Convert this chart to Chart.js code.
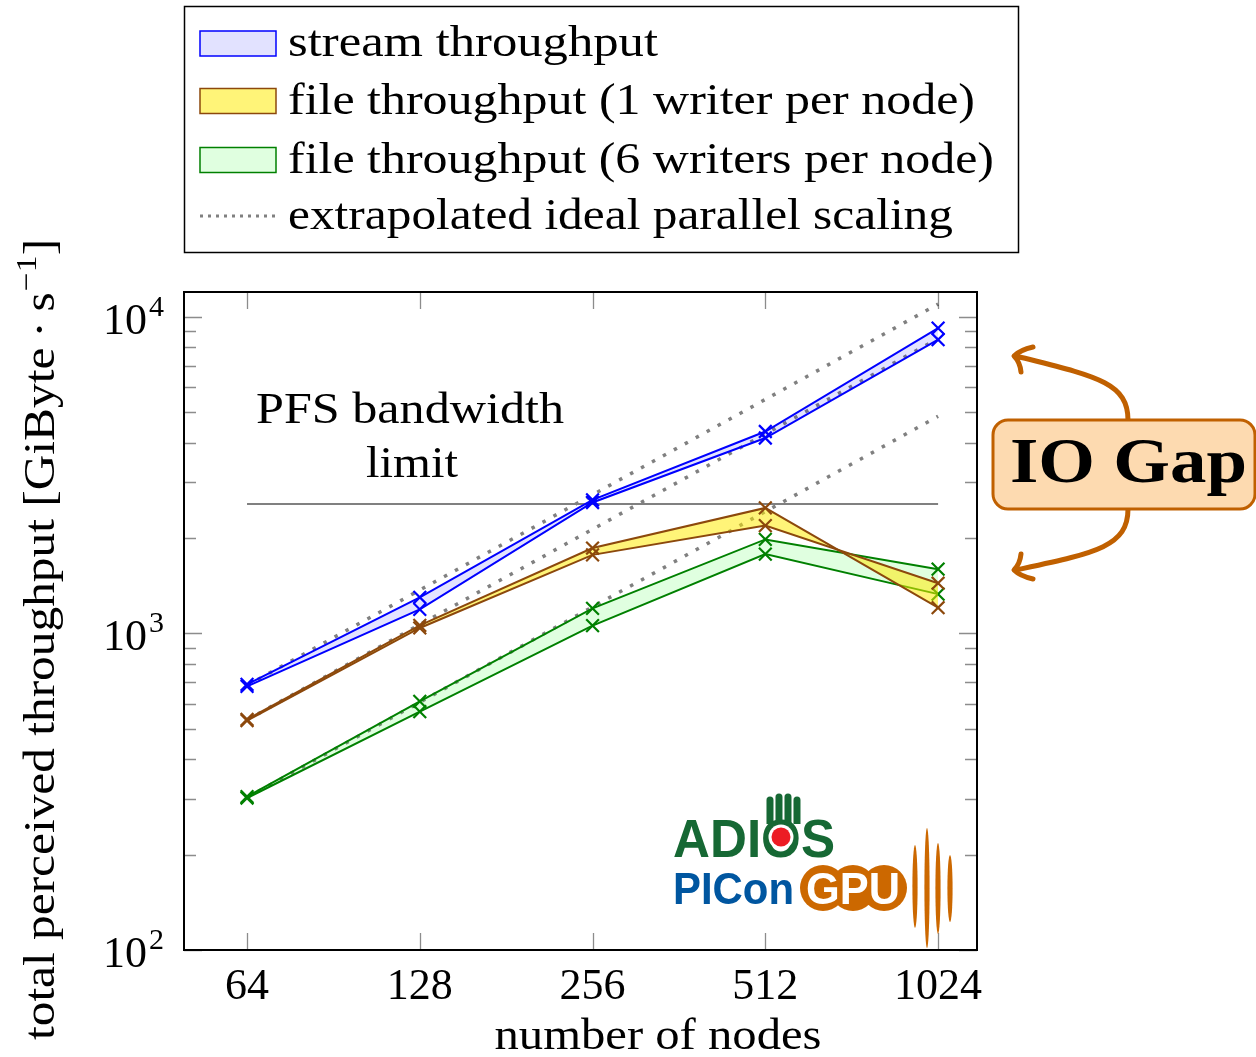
<!DOCTYPE html>
<html>
<head>
<meta charset="utf-8">
<script src="https://cdn.jsdelivr.net/npm/chart.js@4.4.1/dist/chart.umd.min.js"></script>
<style>
  body { margin: 0; background: #fff; }
  canvas { display: block; }
</style>
</head>
<body>
<canvas id="chart" width="1256" height="1057"></canvas>
<script>
// nodes on the x axis
const nodes = [64, 128, 256, 512, 1024];

// measured throughput [GiByte/s], upper and lower run of each setup
const streamHigh = [690, 1300, 2640, 4340, 9200];
const streamLow  = [680, 1190, 2590, 4140, 8460];
const file1A     = [535, 1060, 1860, 2490, 1205];
const file1B     = [530, 1040, 1770, 2190, 1440];
const file6High  = [305, 610, 1200, 1980, 1595];
const file6Low   = [302, 566, 1058, 1780, 1330];

// dotted ideal scaling lines
const idealStream = [685, 1370, 2740, 5480, 10960];
const idealFile1  = [533, 1066, 2132, 4264, 8528];
const idealFile6  = [303, 606, 1212, 2424, 4848];

// PFS bandwidth limit
const pfsNodes = [64, 1024];
const pfsLimit = [2560, 2560];

const yDecades = [100, 1000, 10000];

const legendLabels = [
  'stream throughput',
  'file throughput (1 writer per node)',
  'file throughput (6 writers per node)',
  'extrapolated ideal parallel scaling'
];

const BLUE = 'rgb(0,0,255)';
const BROWN = 'rgb(140,72,12)';
const GREEN = 'rgb(0,128,0)';
const GREY = 'rgb(128,128,128)';
const SERIF = '"Liberation Serif", "Times New Roman", serif';

function pts(ys, xs) {
  xs = xs || nodes;
  return xs.map((x, i) => ({ x: x, y: ys[i] }));
}

function measured(data, color, fill, bg) {
  return {
    data: pts(data),
    borderColor: color,
    borderWidth: 2,
    pointStyle: 'crossRot',
    pointRadius: 9,
    pointBorderWidth: 2.2,
    pointBorderColor: color,
    pointBackgroundColor: color,
    fill: fill,
    backgroundColor: bg
  };
}

function ideal(data) {
  return {
    data: pts(data),
    borderColor: GREY,
    borderWidth: 3.5,
    borderDash: [3.5, 9],
    pointRadius: 0,
    fill: false
  };
}

// draw text stretched to a target width
function fitText(ctx, str, x, y, w, align) {
  const m = ctx.measureText(str).width;
  ctx.save();
  ctx.translate(x, y);
  ctx.scale(w / m, 1);
  ctx.textAlign = 'left';
  let x0 = 0;
  if (align === 'center') x0 = -m / 2;
  if (align === 'right') x0 = -m;
  ctx.fillText(str, x0, 0);
  ctx.restore();
}

const decor = {
  id: 'decor',
  afterDatasetsDraw(chart) {
    const ctx = chart.ctx;
    const a = chart.chartArea;
    const xs = chart.scales.x, ys = chart.scales.y;
    ctx.save();

    // ticks
    ctx.strokeStyle = 'rgba(0,0,0,0.45)';
    ctx.lineWidth = 1.3;
    ctx.beginPath();
    for (let d = 100; d <= 10000; d *= 10) {
      for (let k = 1; k <= 9; k++) {
        const v = k * d;
        if (v > ys.max) break;
        const py = Math.round(ys.getPixelForValue(v)) + 0.5;
        const len = k === 1 ? 18 : 12;
        ctx.moveTo(a.left, py); ctx.lineTo(a.left + len, py);
        ctx.moveTo(a.right, py); ctx.lineTo(a.right - len, py);
      }
    }
    nodes.forEach(n => {
      const px = Math.round(xs.getPixelForValue(n)) + 0.5;
      ctx.moveTo(px, a.bottom); ctx.lineTo(px, a.bottom - 17);
      ctx.moveTo(px, a.top); ctx.lineTo(px, a.top + 17);
    });
    ctx.stroke();

    // frame
    ctx.strokeStyle = '#000';
    ctx.lineWidth = 2;
    ctx.strokeRect(a.left, a.top, a.right - a.left, a.bottom - a.top);

    // tick labels
    ctx.fillStyle = '#000';
    ctx.textBaseline = 'alphabetic';
    ctx.font = '44px ' + SERIF;
    ctx.textAlign = 'center';
    nodes.forEach(n => {
      ctx.fillText(String(n), xs.getPixelForValue(n), 999);
    });
    yDecades.forEach(v => {
      const py = ys.getPixelForValue(v);
      ctx.font = '44px ' + SERIF;
      ctx.textAlign = 'right';
      ctx.fillText('10', 147, py + 17);
      ctx.font = '30px ' + SERIF;
      ctx.textAlign = 'left';
      ctx.fillText(String(Math.round(Math.log10(v))), 149, py - 1);
    });

    // axis titles
    ctx.font = '44px ' + SERIF;
    fitText(ctx, 'number of nodes', 658, 1049, 327, 'center');

    ctx.save();
    ctx.translate(54, 1040);
    ctx.rotate(-Math.PI / 2);
    const t1 = 'total perceived throughput [GiByte\u2009\u00b7\u2009s';
    const t2 = '\u22121';
    const t3 = ']';
    ctx.font = '44px ' + SERIF;
    const w1 = ctx.measureText(t1).width, w3 = ctx.measureText(t3).width;
    ctx.font = '30px ' + SERIF;
    const w2 = ctx.measureText(t2).width;
    const s = 800 / (w1 + w2 + w3);
    ctx.scale(s, 1);
    ctx.textAlign = 'left';
    ctx.font = '44px ' + SERIF;
    ctx.fillText(t1, 0, 0);
    ctx.fillText(t3, w1 + w2 + 1, 0);
    ctx.font = '30px ' + SERIF;
    ctx.fillText(t2, w1 + 1, -18);
    ctx.restore();

    // PFS label
    ctx.font = '44px ' + SERIF;
    fitText(ctx, 'PFS bandwidth', 410, 423, 308, 'center');
    fitText(ctx, 'limit', 412, 477, 92, 'center');

    // legend box
    ctx.strokeStyle = '#000';
    ctx.lineWidth = 1.5;
    ctx.fillStyle = '#fff';
    ctx.fillRect(184, 6, 835, 247);
    ctx.strokeRect(184.5, 6.5, 834, 246);
    const rows = [43.5, 101, 160, 216];
    const swatches = [
      ['rgb(226,226,255)', BLUE],
      ['rgb(255,244,120)', BROWN],
      ['rgb(224,255,224)', GREEN]
    ];
    swatches.forEach((sw, i) => {
      ctx.fillStyle = sw[0];
      ctx.fillRect(200, rows[i] - 12.5, 76, 25);
      ctx.strokeStyle = sw[1];
      ctx.lineWidth = 1.5;
      ctx.strokeRect(200, rows[i] - 12.5, 76, 25);
    });
    ctx.strokeStyle = GREY;
    ctx.lineWidth = 3;
    ctx.setLineDash([3, 5]);
    ctx.beginPath();
    ctx.moveTo(200, rows[3]); ctx.lineTo(277, rows[3]);
    ctx.stroke();
    ctx.setLineDash([]);
    ctx.fillStyle = '#000';
    ctx.font = '44px ' + SERIF;
    const legendW = [370, 687, 706, 665];
    legendLabels.forEach((lab, i) => {
      fitText(ctx, lab, 288, rows[i] + 12.5, legendW[i], 'left');
    });

    // logo
    const SANS = '"Liberation Sans", Arial, sans-serif';
    ctx.font = 'bold 54px ' + SANS;
    ctx.fillStyle = 'rgb(22,104,52)';
    const adW = ctx.measureText('ADIOS').width;
    const sc = 162 / adW;
    const oStart = ctx.measureText('ADI').width * sc;
    const oW = ctx.measureText('O').width * sc;
    fitText(ctx, 'ADIOS', 673, 857, 162, 'left');
    const ox = 673 + oStart + oW / 2;
    ctx.fillStyle = 'rgb(22,104,52)';
    for (let f = 0; f < 4; f++) {
      const fx = ox - 11 + f * 9;
      const top = 792 + Math.abs(f - 1.5) * 3;
      ctx.beginPath();
      ctx.moveTo(fx - 3.5, 824);
      ctx.lineTo(fx - 3.5, top + 3.5);
      ctx.arc(fx, top + 3.5, 3.5, Math.PI, 0);
      ctx.lineTo(fx + 3.5, 824);
      ctx.fill();
    }
    ctx.fillStyle = '#fff';
    ctx.beginPath(); ctx.arc(ox, 837, 12.5, 0, 2 * Math.PI); ctx.fill();
    ctx.fillStyle = 'rgb(236,28,36)';
    ctx.beginPath(); ctx.arc(ox, 837, 9.5, 0, 2 * Math.PI); ctx.fill();

    ctx.font = 'bold 44px ' + SANS;
    ctx.fillStyle = 'rgb(0,86,160)';
    fitText(ctx, 'PICon', 673, 904, 121, 'left');
    ctx.fillStyle = 'rgb(204,104,0)';
    [823, 853, 884].forEach(cx => {
      ctx.beginPath(); ctx.arc(cx, 888, 23, 0, 2 * Math.PI); ctx.fill();
    });
    ctx.fillStyle = '#fff';
    ctx.font = 'bold 44px ' + SANS;
    fitText(ctx, 'GPU', 853, 904, 94, 'center');
    ctx.fillStyle = 'rgb(204,104,0)';
    [[915, 845, 928], [927, 828, 948], [938, 843, 934], [950, 855, 922]].forEach(e => {
      ctx.beginPath();
      ctx.ellipse(e[0], (e[1] + e[2]) / 2, 2.6, (e[2] - e[1]) / 2, 0, 0, 2 * Math.PI);
      ctx.fill();
    });

    // IO gap annotation
    const OR = 'rgb(192,96,0)';
    ctx.strokeStyle = OR;
    ctx.lineWidth = 5;
    ctx.lineCap = 'round';
    ctx.lineJoin = 'round';
    ctx.beginPath();
    ctx.moveTo(1128, 420);
    ctx.bezierCurveTo(1128, 382, 1095, 376, 1016, 356);
    ctx.moveTo(1033, 347); ctx.quadraticCurveTo(1020, 350, 1014, 356);
    ctx.quadraticCurveTo(1020, 362, 1021, 372);
    ctx.moveTo(1128, 509);
    ctx.bezierCurveTo(1128, 547, 1095, 553, 1016, 570);
    ctx.moveTo(1033, 579); ctx.quadraticCurveTo(1020, 576, 1014, 570);
    ctx.quadraticCurveTo(1020, 564, 1021, 554);
    ctx.stroke();

    ctx.fillStyle = 'rgb(253,218,176)';
    ctx.lineWidth = 3;
    ctx.beginPath();
    ctx.roundRect(993, 420, 262, 89, 15);
    ctx.fill();
    ctx.stroke();
    ctx.fillStyle = '#000';
    ctx.font = 'bold 64px ' + SERIF;
    fitText(ctx, 'IO Gap', 1010, 482, 237, 'left');

    ctx.restore();
  }
};

new Chart(document.getElementById('chart'), {
  type: 'line',
  data: {
    datasets: [
      measured(streamHigh, BLUE, false),
      measured(streamLow, BLUE, '-1', 'rgba(0,0,255,0.11)'),
      measured(file1A, BROWN, false),
      measured(file1B, BROWN, '-1', 'rgba(255,234,0,0.53)'),
      measured(file6High, GREEN, false),
      measured(file6Low, GREEN, '-1', 'rgba(0,255,0,0.12)'),
      ideal(idealStream),
      ideal(idealFile1),
      ideal(idealFile6),
      {
        data: pts(pfsLimit, pfsNodes),
        borderColor: GREY,
        borderWidth: 2,
        pointRadius: 0,
        fill: false
      }
    ]
  },
  options: {
    responsive: false,
    devicePixelRatio: 1,
    animation: false,
    layout: { padding: { left: 184, top: 292, right: 279, bottom: 107 } },
    elements: { line: { tension: 0 } },
    plugins: {
      legend: { display: false },
      tooltip: { enabled: false },
      title: { display: false }
    },
    scales: {
      x: { type: 'logarithmic', min: 49.7, max: 1197, display: false },
      y: { type: 'logarithmic', min: 100, max: 11970, display: false }
    }
  },
  plugins: [decor]
});
</script>
</body>
</html>
